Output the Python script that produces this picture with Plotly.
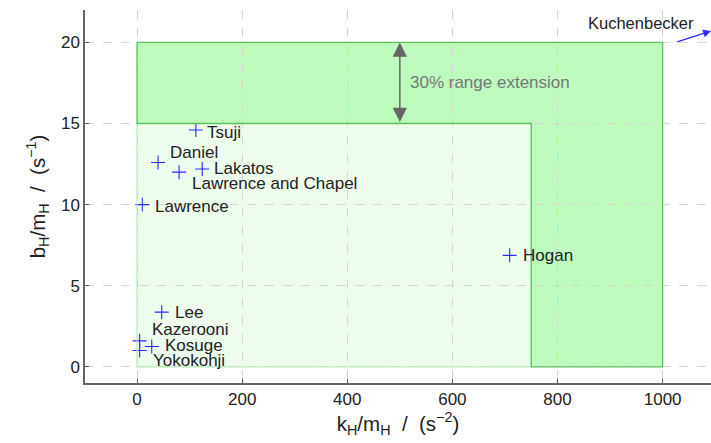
import plotly.graph_objects as go

names = ["Tsuji", "Daniel", "Lakatos", "Lawrence and Chapel", "Lawrence",
         "Hogan", "Lee", "Kazerooni", "Kosuge", "Yokokohji"]
kx = [112, 40, 124, 80, 10, 709, 47, 5, 28, 5]
by = [14.6, 12.6, 12.2, 12.0, 10.0, 6.87, 3.37, 1.6, 1.25, 1.0]
# label offsets in pixels (dx, dy up)
offs = [(9, -2), (10, 10), (10, 0), (11, -11), (11, -2),
        (11, 0), (11, 0), (10, 11), (11, 1), (11, -10)]

xticks = [0, 200, 400, 600, 800, 1000]
yticks = [0, 5, 10, 15, 20]

outer_x = [0, 0, 1000, 1000, 750, 750, 0]
outer_y = [15, 20, 20, 0, 0, 15, 15]
inner_x = [0, 750, 750, 0, 0]
inner_y = [0, 0, 15, 15, 0]

font = "Liberation Sans, Arial, Helvetica, sans-serif"

fig = go.Figure()

fig.add_trace(go.Scatter(
    x=kx, y=by, mode="markers",
    marker=dict(symbol="cross-thin", size=10, line=dict(color="#2a2aff", width=1.1)),
    hoverinfo="skip", showlegend=False))

path_outer = "M " + " L ".join(f"{a},{b}" for a, b in zip(outer_x, outer_y)) + " Z"
path_inner = "M " + " L ".join(f"{a},{b}" for a, b in zip(inner_x, inner_y)) + " Z"
# fills below the grid
fig.add_shape(type="path", path=path_inner, xref="x", yref="y", layer="below",
              fillcolor="#eefcee", line=dict(width=0))
fig.add_shape(type="path", path=path_outer, xref="x", yref="y", layer="below",
              fillcolor="#bdfbbd", line=dict(width=0))
# outlines above the grid
fig.add_shape(type="path", path=path_inner, xref="x", yref="y", layer="above",
              fillcolor="rgba(0,0,0,0)", line=dict(color="#b8ecb8", width=1.2))
fig.add_shape(type="path", path=path_outer, xref="x", yref="y", layer="above",
              fillcolor="rgba(0,0,0,0)", line=dict(color="#5cc05c", width=1.3))

for n, x, y, (dx, dy) in zip(names, kx, by, offs):
    fig.add_annotation(x=x, y=y, text=n, showarrow=False, xanchor="left",
                       yanchor="middle", xshift=dx, yshift=dy,
                       font=dict(size=17, color="#222222", family=font))

# range extension arrow
fig.add_annotation(x=500, y=20, ax=500, ay=15, xref="x", yref="y", axref="x", ayref="y",
                   text="", showarrow=True, arrowside="end+start", arrowhead=2,
                   arrowsize=1.9, arrowwidth=1.5, arrowcolor="#666666")
fig.add_annotation(x=500, y=17.5, text="30% range extension", showarrow=False,
                   xanchor="left", xshift=8,
                   font=dict(size=17, color="#777777", family=font))

# Kuchenbecker off-chart pointer
fig.add_annotation(x=1092, y=20.7, ax=1025, ay=20.0, xref="x", yref="y", axref="x", ayref="y",
                   text="", showarrow=True, arrowhead=2, arrowsize=1.2,
                   arrowwidth=1.3, arrowcolor="#2a2aff")
fig.add_annotation(x=1063, y=21.2, text="Kuchenbecker", showarrow=False,
                   xanchor="right", yanchor="middle",
                   font=dict(size=16.5, color="#222222", family=font))

axis_common = dict(showline=True, linecolor="#666666", linewidth=1.5,
                   ticks="inside", ticklen=4, tickcolor="#555555",
                   showgrid=True, gridcolor="#d4d4d4", griddash="dash", gridwidth=1,
                   zeroline=False, tickfont=dict(size=17, color="#222222", family=font))

fig.update_layout(
    width=711, height=443,
    margin=dict(l=85, r=0, t=10, b=60),
    plot_bgcolor="white", paper_bgcolor="white",
    xaxis=dict(range=[-99, 1092], tickvals=xticks, **axis_common,
               title=dict(text="k<sub>H</sub>/m<sub>H</sub>  /  (s<sup>−2</sup>)",
                          font=dict(size=20.5, color="#222222", family=font), standoff=6)),
    yaxis=dict(range=[-1, 22], tickvals=yticks, **axis_common,
               title=dict(text="b<sub>H</sub>/m<sub>H</sub>  /  (s<sup>−1</sup>)",
                          font=dict(size=20.5, color="#222222", family=font), standoff=10)),
)

fig.write_html("out.html")
